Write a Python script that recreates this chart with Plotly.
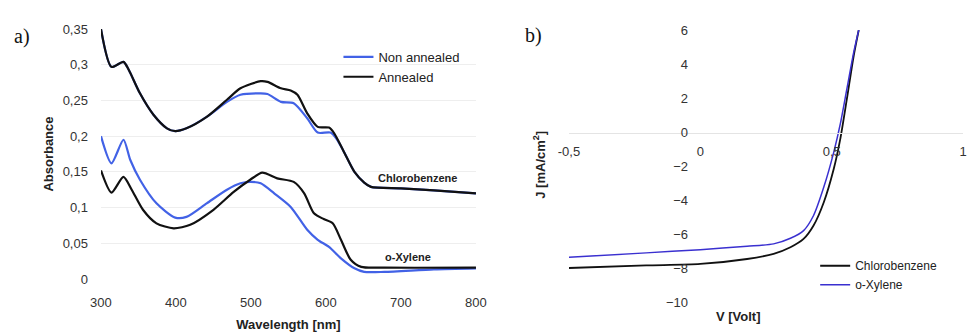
import plotly.graph_objects as go

# ---------------- Panel a data (absorbance) ----------------
cb_ann_x = [300, 314, 330, 337, 352, 370, 388, 399, 414, 441, 468, 486, 513, 522, 540, 553, 562, 575, 589, 604, 611, 624, 638, 651, 660, 700, 744, 800]
cb_ann_y = [0.350, 0.297, 0.304, 0.293, 0.260, 0.230, 0.211, 0.207, 0.211, 0.227, 0.251, 0.267, 0.277, 0.276, 0.267, 0.264, 0.258, 0.232, 0.213, 0.212, 0.204, 0.178, 0.150, 0.135, 0.129, 0.127, 0.124, 0.120]

cb_non_x = [300, 314, 330, 337, 352, 370, 388, 399, 414, 441, 468, 486, 513, 522, 540, 557, 575, 589, 606, 615, 624, 638, 651, 660, 700, 744, 800]
cb_non_y = [0.350, 0.297, 0.304, 0.293, 0.260, 0.230, 0.211, 0.207, 0.211, 0.227, 0.248, 0.258, 0.260, 0.259, 0.248, 0.246, 0.225, 0.205, 0.205, 0.195, 0.178, 0.150, 0.135, 0.129, 0.127, 0.124, 0.120]

ox_non_x = [300, 314, 330, 339, 352, 374, 399, 414, 441, 468, 486, 499, 513, 531, 553, 575, 589, 604, 620, 638, 651, 678, 744, 800]
ox_non_y = [0.200, 0.162, 0.195, 0.167, 0.139, 0.106, 0.086, 0.087, 0.106, 0.125, 0.134, 0.136, 0.134, 0.120, 0.101, 0.069, 0.055, 0.045, 0.029, 0.015, 0.010, 0.010, 0.0135, 0.015]

ox_ann_x = [300, 314, 330, 341, 356, 374, 397, 419, 450, 477, 499, 515, 535, 557, 571, 584, 597, 609, 620, 633, 647, 678, 800]
ox_ann_y = [0.152, 0.121, 0.143, 0.125, 0.097, 0.078, 0.071, 0.076, 0.097, 0.122, 0.139, 0.149, 0.141, 0.136, 0.120, 0.092, 0.084, 0.078, 0.055, 0.027, 0.017, 0.016, 0.016]

a_yticks = [0, 0.05, 0.1, 0.15, 0.2, 0.25, 0.3, 0.35]
a_yticktext = ["0", "0,05", "0,1", "0,15", "0,2", "0,25", "0,3", "0,35"]
a_xticks = [300, 400, 500, 600, 700, 800]

# ---------------- Panel b data (J-V) ----------------
v_cb = [-0.5, -0.206, 0.0, 0.178, 0.279, 0.343, 0.393, 0.431, 0.470, 0.508, 0.533, 0.558, 0.584, 0.603]
j_cb = [-8.0, -7.85, -7.76, -7.47, -7.17, -6.78, -6.29, -5.5, -4.13, -2.16, -0.39, 1.96, 4.5, 6.0]
v_ox = [-0.5, -0.206, 0.0, 0.178, 0.279, 0.343, 0.393, 0.431, 0.470, 0.508, 0.533, 0.558, 0.584, 0.603]
j_ox = [-7.37, -7.11, -6.92, -6.72, -6.58, -6.25, -5.8, -4.91, -3.24, -1.18, 0.49, 2.55, 4.7, 6.0]

b_yticks = [-10, -8, -6, -4, -2, 0, 2, 4, 6]
b_xticks = [-0.5, 0, 0.5, 1]
b_xticktext = ["-0,5", "0", "0,5", "1"]

BLUE_A = "#4262e6"
BLUE_B = "#3a30d0"
BLACK = "#111111"
FONT = "Liberation Sans"

fig = go.Figure()

sm = dict(shape="spline", smoothing=0.7)

fig.add_trace(go.Scatter(x=cb_non_x, y=cb_non_y, mode="lines", line=dict(color=BLUE_A, width=2.2, **sm),
                         name="Non annealed", legend="legend", xaxis="x", yaxis="y"))
fig.add_trace(go.Scatter(x=cb_ann_x, y=cb_ann_y, mode="lines", line=dict(color=BLACK, width=2.2, **sm),
                         name="Annealed", legend="legend", xaxis="x", yaxis="y"))
fig.add_trace(go.Scatter(x=ox_non_x, y=ox_non_y, mode="lines", line=dict(color=BLUE_A, width=2.2, **sm),
                         showlegend=False, xaxis="x", yaxis="y"))
fig.add_trace(go.Scatter(x=ox_ann_x, y=ox_ann_y, mode="lines", line=dict(color=BLACK, width=2.2, **sm),
                         showlegend=False, xaxis="x", yaxis="y"))

fig.add_trace(go.Scatter(x=v_cb, y=j_cb, mode="lines", line=dict(color=BLACK, width=1.8, **sm),
                         name="Chlorobenzene", legend="legend2", xaxis="x2", yaxis="y2"))
fig.add_trace(go.Scatter(x=v_ox, y=j_ox, mode="lines", line=dict(color=BLUE_B, width=1.5, **sm),
                         name="o-Xylene", legend="legend2", xaxis="x2", yaxis="y2"))

tickfont = dict(family=FONT, size=13, color="#333333")
titlefont = dict(family=FONT, size=13, color="#222222")

fig.update_layout(
    width=967, height=335,
    margin=dict(l=0, r=0, t=0, b=0, autoexpand=False),
    paper_bgcolor="white", plot_bgcolor="white",
    font=dict(family=FONT, size=13, color="#222222"),
    xaxis=dict(domain=[0.1044, 0.4922], range=[300, 800], tickvals=a_xticks,
               showgrid=False, zeroline=False, showline=False, ticks="",
               tickfont=tickfont, anchor="y", automargin=False, ticklabelstandoff=14,
               title=dict(text="<b>Wavelength [nm]</b>", font=titlefont, standoff=10)),
    yaxis=dict(domain=[0.167, 0.9134], range=[0, 0.35], tickvals=a_yticks, ticktext=a_yticktext,
               showgrid=True, gridcolor="#eeeeee", zeroline=False, showline=False, ticks="",
               tickfont=tickfont, anchor="x", automargin=False, ticklabelstandoff=12,
               title=dict(text="<b>Absorbance</b>", font=titlefont, standoff=6)),
    xaxis2=dict(domain=[0.5884, 0.9959], range=[-0.5, 1], tickvals=b_xticks, ticktext=b_xticktext,
                showgrid=False, zeroline=False, showline=True, linecolor="#e4e4e4", ticks="",
                tickfont=tickfont, anchor="free", position=0.603, automargin=False, ticklabelstandoff=6),
    yaxis2=dict(domain=[0.0985, 0.9104], range=[-10, 6], tickvals=b_yticks,
                showgrid=False, zeroline=False, showline=False, ticks="",
                tickfont=tickfont, anchor="free", position=0.7239, automargin=False, ticklabelstandoff=12),
    legend=dict(x=0.350, y=0.875, xanchor="left", yanchor="top", bgcolor="rgba(0,0,0,0)",
                font=dict(family=FONT, size=13, color="#222222"), itemwidth=30, tracegroupgap=0),
    legend2=dict(x=0.843, y=0.25, xanchor="left", yanchor="top", bgcolor="rgba(0,0,0,0)",
                 font=dict(family=FONT, size=12, color="#222222"), itemwidth=30, tracegroupgap=0),
    annotations=[
        dict(text="<b>Chlorobenzene</b>", x=722, y=0.142, xref="x", yref="y", showarrow=False,
             font=dict(family=FONT, size=11, color="#222222")),
        dict(text="<b>o-Xylene</b>", x=710, y=0.031, xref="x", yref="y", showarrow=False,
             font=dict(family=FONT, size=11, color="#222222")),
        dict(text="a)", x=0.012, y=0.89, xref="paper", yref="paper", xanchor="left", yanchor="middle",
             showarrow=False, font=dict(family="Liberation Serif", size=20, color="#111111")),
        dict(text="b)", x=0.541, y=0.895, xref="paper", yref="paper", xanchor="left", yanchor="middle",
             showarrow=False, font=dict(family="Liberation Serif", size=20, color="#111111")),
        dict(text="<b>J [mA/cm<sup>2</sup>]</b>", x=0.558, y=0.507, xref="paper", yref="paper",
             textangle=-90, showarrow=False, font=titlefont),
        dict(text="<b>V [Volt]</b>", x=0.789, y=0.027, xref="paper", yref="paper",
             showarrow=False, font=titlefont),
    ],
)

fig.write_html("out.html")
